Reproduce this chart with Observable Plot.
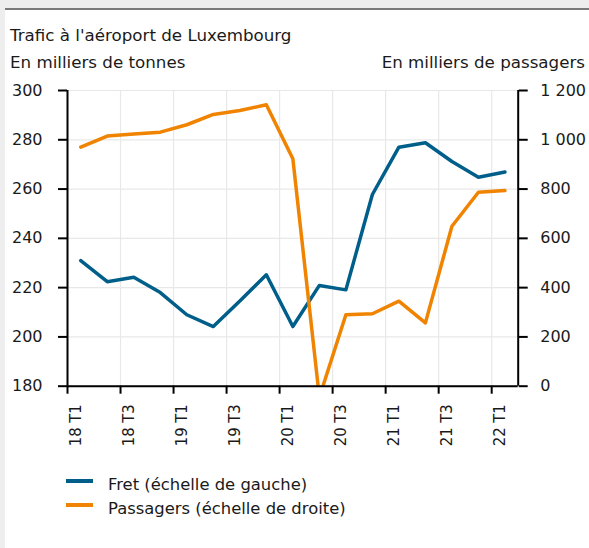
<!DOCTYPE html>
<html><head><meta charset="utf-8">
<script src="https://cdn.jsdelivr.net/npm/d3@7"></script>
<script src="https://cdn.jsdelivr.net/npm/@observablehq/plot@0.6"></script>
<style>
body{margin:0;background:#eeeeee;width:589px;height:548px;overflow:hidden;font-family:"DejaVu Sans",sans-serif;position:relative}
#panel{position:absolute;left:5px;top:8px;width:584px;height:540px;background:#fff;border-top:2px solid #7a7a7a;box-sizing:border-box}
.t{position:absolute;font-size:16.7px;color:#1a1a1a;white-space:nowrap;line-height:17px}
.lg{font-size:16.4px}
#chart{position:absolute;left:0;top:0}
.sw{position:absolute;left:66px;width:27px;height:4px}
</style></head><body>
<div id="panel"></div>
<div id="chart"></div>
<div class="t" style="left:10px;top:27px">Trafic à l'aéroport de Luxembourg</div>
<div class="t" style="left:10px;top:54px">En milliers de tonnes</div>
<div class="t" style="right:4px;top:54px">En milliers de passagers</div>
<div class="sw" id="sw1" style="top:479px"></div>
<div class="t lg" id="lg1" style="left:108px;top:476px"></div>
<div class="sw" id="sw2" style="top:503px"></div>
<div class="t lg" id="lg2" style="left:108px;top:500px"></div>
<script>
const quarters = ["18 T1","18 T2","18 T3","18 T4","19 T1","19 T2","19 T3","19 T4","20 T1","20 T2","20 T3","20 T4","21 T1","21 T2","21 T3","21 T4","22 T1"];
const fret = [231, 222.4, 224.2, 218, 209, 204.2, 214.6, 225.2, 204.2, 220.9, 219.1, 257.8, 277, 278.8, 271.2, 264.8, 266.9];
const passagers = [970, 1015, 1023, 1031, 1061, 1103, 1119, 1142, 923, -45, 290, 294, 345, 257, 649, 787, 794];
const seriesNames = ["Fret (échelle de gauche)", "Passagers (échelle de droite)"];
const colors = ["#005f8a", "#f08300"];
const leftTicks = [180, 200, 220, 240, 260, 280, 300];
const rightTicks = [0, 200, 400, 600, 800, 1000, 1200];
const xTickIdx = [0, 2, 4, 6, 8, 10, 12, 14, 16];

document.getElementById("sw1").style.background = colors[0];
document.getElementById("sw2").style.background = colors[1];
document.getElementById("lg1").textContent = seriesNames[0];
document.getElementById("lg2").textContent = seriesNames[1];

// right scale (passengers) mapped onto left scale (freight)
const toLeft = p => 180 + p / 10;
const fmtRight = v => { const n = Math.round((v - 180) * 10); return n >= 1000 ? Math.floor(n/1000) + " " + String(n % 1000).padStart(3, "0") : String(n); };

const data = quarters.map((q, i) => ({i, q, fret: fret[i], pass: passagers[i]}));

const chart = Plot.plot({
  width: 589, height: 470,
  marginLeft: 67, marginRight: 71.3, marginTop: 90, marginBottom: 84.3,
  x: {domain: [0, 17]},
  y: {domain: [180, 300]},
  style: {background: "transparent", fontFamily: "'DejaVu Sans',sans-serif", fontSize: "16px", color: "#1a1a1a"},
  marks: [
    Plot.gridY(leftTicks, {stroke: "#e8e8e8", strokeOpacity: 1, strokeWidth: 1.2}),
    Plot.gridX(xTickIdx, {stroke: "#e8e8e8", strokeOpacity: 1, strokeWidth: 1.2}),
    Plot.line(data, {x: d => d.i + 0.5, y: "fret", stroke: colors[0], strokeWidth: 3.5, clip: true}),
    Plot.line(data, {x: d => d.i + 0.5, y: d => toLeft(d.pass), stroke: colors[1], strokeWidth: 3.5, clip: true}),
    Plot.axisY(leftTicks, {anchor: "left", tickSize: 9, tickPadding: 16, stroke: "#000", strokeWidth: 2, label: null}),
    Plot.axisY(rightTicks.map(toLeft), {anchor: "right", tickSize: 9, tickPadding: 13, stroke: "#000", strokeWidth: 2, tickFormat: fmtRight, label: null}),
    Plot.axisX(xTickIdx, {anchor: "bottom", tickSize: 8, stroke: "#000", strokeWidth: 2, tickFormat: () => "", label: null}),
    Plot.axisX(xTickIdx, {anchor: "bottom", tickSize: 0, tickPadding: 18, tickRotate: -90, dx: 8, fontFamily: "'DejaVu Sans Condensed',sans-serif", fontSize: 16.5, tickFormat: t => quarters[t], label: null}),
    Plot.ruleX([0, 17], {stroke: "#000", strokeWidth: 2}),
    Plot.ruleY([180], {stroke: "#000", strokeWidth: 2})
  ]
});
document.getElementById("chart").appendChild(chart);
</script>
</body></html>
